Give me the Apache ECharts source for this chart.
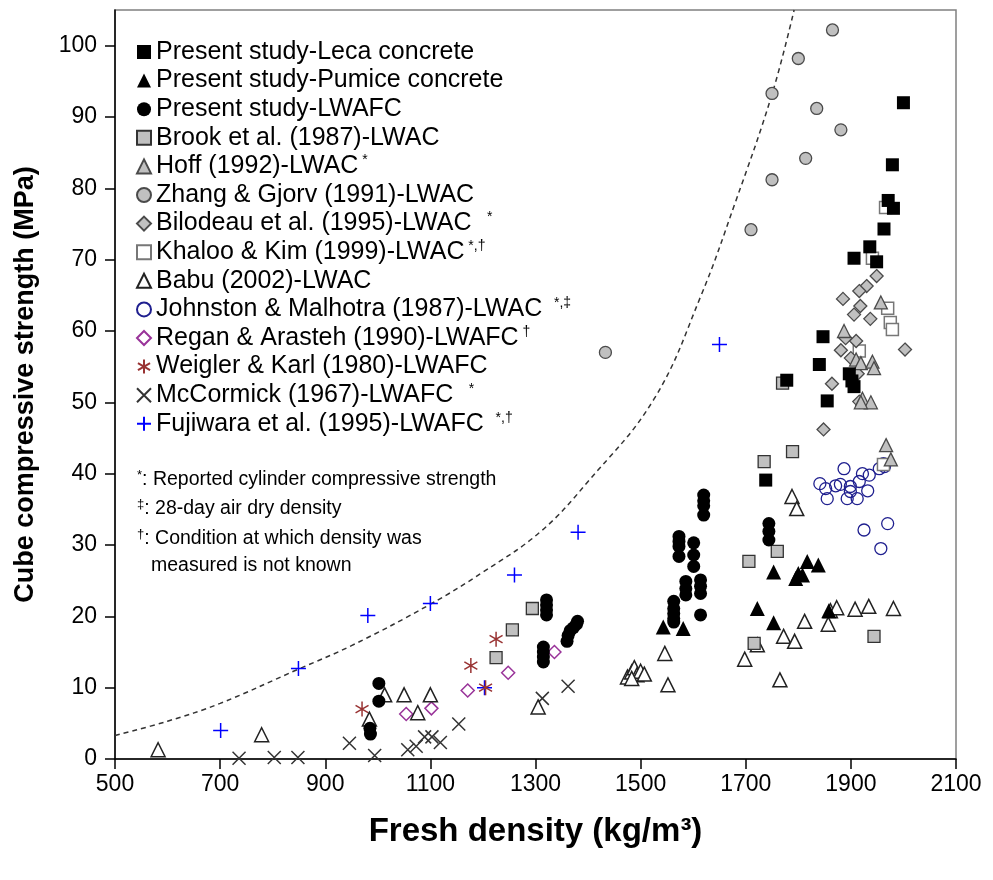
<!DOCTYPE html>
<html>
<head>
<meta charset="utf-8">
<script src="https://cdn.jsdelivr.net/npm/echarts@6/dist/echarts.min.js"></script>
<style>
html,body{margin:0;padding:0;background:#fff;}
#chart{width:993px;height:880px;}
</style>
</head>
<body>
<div id="chart"></div>
<script>
// ---- Data (density kg/m3, cube strength MPa) ----
const lecaConcrete = [[2000,92],[1979,83.3],[1971,78.3],[1981,77.2],[1963,74.3],[1936,71.8],[1906,70.2],[1949,69.7],[1847,59.2],[1840,55.3],[1897,54],[1906,52.2],[1902,53],[1855,50.2],[1778,53.1],[1738,39.1]];
const pumiceConcrete = [[1753,26.2],[1795,25.3],[1800,26],[1808,25.8],[1817,27.7],[1838,27.2],[1722,21.1],[1753,19.1],[1543,18.5],[1581,18.3],[1858,20.8]];
const presentLWAFC = [[985,4.3],[986,3.5],[1002,10.6],[1002,8.1],
  [1321,22.3],[1321,21.6],[1321,20.9],[1321,20.2],
  [1315,15.7],[1315,15.0],[1315,14.3],[1315,13.6],
  [1360,16.5],[1362,17.3],[1366,18],[1372,18.4],[1378,18.9],[1380,19.3],
  [1620,37],[1620,36.2],[1620,35.5],[1620,34.2],
  [1573,31.2],[1573,30.5],[1573,29.8],[1573,28.4],
  [1601,30.3],[1601,28.6],[1601,27],
  [1586,24.9],[1586,23.9],[1586,23],
  [1614,25.1],[1614,24.2],[1614,23.2],
  [1563,22.1],[1563,21.1],[1563,20.4],[1563,19.7],[1563,19.2],
  [1614,20.2],[1744,33],[1744,31.9],[1744,30.7]];
const brook1987 = [[1225,14.2],[1256,18.1],[1294,21.1],[1770,52.7],[1789,43.1],[1735,41.7],[1760,29.1],[1706,27.7],[1944,17.2],[1716,16.2]];
const hoff1992 = [[1957,64],[1887,60],[1910,56],[1919,55.5],[1941,55.7],[1944,54.8],[1922,50.5],[1938,50],[1919,50],[1967,44],[1976,42]];
const zhang1991 = [[1865,102.2],[1800,98.2],[1750,93.3],[1835,91.2],[1881,88.2],[1814,84.2],[1750,81.2],[1710,74.2],[1433,57]];
const bilodeau1995 = [[1949,67.7],[1930,66.3],[1916,65.6],[1885,64.5],[1918,63.5],[1906,62.3],[1937,61.7],[1890,59],[1910,58.6],[1881,57.3],[1900,56.2],[2003,57.4],[1913,54],[1864,52.6],[1916,50.1],[1848,46.2]];
const khaloo1999 = [[1966,77.3],[1941,70.2],[1970,63.2],[1975,61.2],[1979,60.2],[1916,57.2],[1962,41.3]];
const babu2002 = [[582,1.3],[779,3.4],[984,5.6],[1013,9],[1050,9],[1100,9],[1076,6.5],[1305,7.3],[1475,11.5],[1483,12.2],[1488,12.8],[1493,11.8],[1500,12.3],[1507,11.9],[1483,11.3],[1546,14.8],[1552,10.4],[1698,14],[1722,16],[1765,11.1],[1772,17.2],[1793,16.5],[1788,36.8],[1797,35.1],[1812,19.3],[1857,18.9],[1861,20.8],[1873,21.2],[1908,21],[1934,21.4],[1981,21.1]];
const johnston1987 = [[1887,40.7],[1922,40],[1935,39.8],[1954,40.7],[1962,41.4],[1841,38.6],[1852,37.9],[1871,38.3],[1880,38.5],[1899,38.2],[1916,38.9],[1932,37.6],[1855,36.5],[1893,36.5],[1912,36.5],[1899,37.5],[1925,32.1],[1970,33],[1957,29.5],[1964,41]];
const regan1990 = [[1054,6.3],[1102,7.1],[1171,9.6],[1248,12.1],[1336,15]];
const weigler1980 = [[970,7],[1177,13.1],[1225,16.8],[1205,10]];
const mccormick1967 = [[736,0.1],[803,0.2],[848,0.2],[946,2.2],[994,0.5],[1057,1.3],[1073,1.8],[1089,3.1],[1103,3.1],[1119,2.3],[1154,4.9],[1313,8.5],[1362,10.2]];
const fujiwara1995 = [[701,4],[849,12.7],[981,20.1],[1100,21.8],[1203,10],[1260,25.8],[1381,31.8],[1650,58.1]];
const boundCurve = [[500,3.3],[600,5.3],[700,7.8],[849,12.6],[950,15.9],[1100,21.7],[1200,26.2],[1310,31.9],[1400,38.9],[1525,50.4],[1614,64.8],[1680,78],[1750,93.2],[1792,105]];

const xTicks = [500,700,900,1100,1300,1500,1700,1900,2100];
const yTicks = [0,10,20,30,40,50,60,70,80,90,100];

const legendMarks = {
  'Hoff (1992)-LWAC': ' *',
  'Bilodeau et al. (1995)-LWAC': '    *',
  'Khaloo & Kim (1999)-LWAC': ' *,†',
  'Johnston & Malhotra (1987)-LWAC': '   *,‡',
  'Regan & Arasteh (1990)-LWAFC': ' †',
  'McCormick (1967)-LWAFC': '    *',
  'Fujiwara et al. (1995)-LWAFC': '   *,†'
};

const FONT = "'Liberation Sans', Arial, sans-serif";
const GRAY = '#c0c0c0', GRAYB = '#4a4a4a';
const P_AST = 'path://M5,0L5,10M0.67,2.5L9.33,7.5M0.67,7.5L9.33,2.5';
const P_X = 'path://M0,0L10,10M0,10L10,0';
const P_PLUS = 'path://M5,0L5,10M0,5L10,5';
const T = 'rgba(0,0,0,0)';

function sc(name, data, symbol, size, color, border, bw) {
  return {
    name, type: 'scatter', data, symbol, symbolSize: size, symbolKeepAspect: true,
    itemStyle: {color, borderColor: border || color, borderWidth: bw || 0, opacity: 1},
    emphasis: {disabled: true}, z: 3
  };
}

const seriesDefs = [
  sc('Fujiwara et al. (1995)-LWAFC', fujiwara1995, P_PLUS, 15, T, '#0000ff', 1.5),
  sc('McCormick (1967)-LWAFC', mccormick1967, P_X, 13, T, '#333333', 1.5),
  sc('Weigler & Karl (1980)-LWAFC', weigler1980, P_AST, 15, T, '#993333', 1.5),
  sc('Regan & Arasteh (1990)-LWAFC', regan1990, 'diamond', 13, '#ffffff', '#993399', 1.5),
  sc('Johnston & Malhotra (1987)-LWAC', johnston1987, 'circle', 12, T, '#1f1f8f', 1.3),
  sc('Babu (2002)-LWAC', babu2002, 'triangle', 14, '#ffffff', '#222222', 1.5),
  sc('Khaloo & Kim (1999)-LWAC', khaloo1999, 'rect', 12, '#ffffff', '#777777', 1.5),
  sc('Bilodeau et al. (1995)-LWAC', bilodeau1995, 'diamond', 13, GRAY, GRAYB, 1.3),
  sc('Zhang & Gjorv (1991)-LWAC', zhang1991, 'circle', 12, GRAY, GRAYB, 1.3),
  sc('Hoff (1992)-LWAC', hoff1992, 'triangle', 13, GRAY, GRAYB, 1.3),
  sc('Brook et al. (1987)-LWAC', brook1987, 'rect', 12, GRAY, '#333333', 1.3),
  sc('Present study-LWAFC', presentLWAFC, 'circle', 13, '#000000'),
  sc('Present study-Pumice concrete', pumiceConcrete, 'triangle', 15, '#000000'),
  sc('Present study-Leca concrete', lecaConcrete, 'rect', 13, '#000000')
];

const legendOrder = ['Present study-Leca concrete','Present study-Pumice concrete','Present study-LWAFC',
  'Brook et al. (1987)-LWAC','Hoff (1992)-LWAC','Zhang & Gjorv (1991)-LWAC','Bilodeau et al. (1995)-LWAC',
  'Khaloo & Kim (1999)-LWAC','Babu (2002)-LWAC','Johnston & Malhotra (1987)-LWAC','Regan & Arasteh (1990)-LWAFC',
  'Weigler & Karl (1980)-LWAFC','McCormick (1967)-LWAFC','Fujiwara et al. (1995)-LWAFC'];

const chart = echarts.init(document.getElementById('chart'), null, {renderer: 'canvas'});
chart.setOption({
  animation: false,
  backgroundColor: '#ffffff',
  grid: {left: 115, right: 37, top: 10, bottom: 121, show: true, borderColor: '#808080', borderWidth: 1.5},
  xAxis: {
    type: 'value', min: 500, max: 2100,
    name: 'Fresh density (kg/m³)', nameLocation: 'middle', nameGap: 56,
    nameTextStyle: {fontFamily: FONT, fontSize: 33, fontWeight: 'bold', color: '#000'},
    axisLine: {show: true, onZero: false, lineStyle: {color: '#000', width: 1.5}},
    axisTick: {show: true, inside: false, length: 10, lineStyle: {color: '#000', width: 1.5}, customValues: xTicks},
    axisLabel: {fontFamily: FONT, fontSize: 23, color: '#000', margin: 14, customValues: xTicks,
      formatter: function (v) { return String(v); }},
    splitLine: {show: false}
  },
  yAxis: {
    type: 'value', min: 0, max: 105,
    name: 'Cube compressive strength (MPa)', nameLocation: 'middle', nameGap: 76, nameRotate: 90,
    nameTextStyle: {fontFamily: FONT, fontSize: 27, fontWeight: 'bold', color: '#000'},
    axisLine: {show: true, onZero: false, lineStyle: {color: '#000', width: 1.5}},
    axisTick: {show: true, inside: false, length: 10, lineStyle: {color: '#000', width: 1.5}, customValues: yTicks},
    axisLabel: {fontFamily: FONT, fontSize: 23, color: '#000', margin: 18, customValues: yTicks,
      formatter: function (v) { return String(v); }},
    splitLine: {show: false}
  },
  legend: {
    data: legendOrder, orient: 'vertical', left: 131, top: 34, itemWidth: 14, itemHeight: 14, itemGap: 2.6,
    selectedMode: false,
    formatter: function (name) {
      const m = legendMarks[name];
      return '{n|' + name + '}' + (m ? '{s|' + m + '}' : '');
    },
    textStyle: {fontFamily: FONT, fontSize: 25, color: '#000', lineHeight: 26,
      rich: {
        n: {fontFamily: FONT, fontSize: 25, color: '#000', lineHeight: 26},
        s: {fontFamily: FONT, fontSize: 14, color: '#000', lineHeight: 26, verticalAlign: 'top'}
      }
    }
  },
  graphic: [
    {type: 'text', left: 137, top: 469, style: {text: '{s|*}{t|: Reported cylinder compressive strength}', rich: {s: {fontSize: 13, fontFamily: FONT, verticalAlign: 'top', lineHeight: 22}, t: {fontSize: 19.5, fontFamily: FONT, lineHeight: 22}}, fill: '#000'}},
    {type: 'text', left: 137, top: 498, style: {text: '{s|‡}{t|: 28-day air dry density}', rich: {s: {fontSize: 13, fontFamily: FONT, verticalAlign: 'top', lineHeight: 22}, t: {fontSize: 19.5, fontFamily: FONT, lineHeight: 22}}, fill: '#000'}},
    {type: 'text', left: 137, top: 528, style: {text: '{s|†}{t|: Condition at which density was}', rich: {s: {fontSize: 13, fontFamily: FONT, verticalAlign: 'top', lineHeight: 22}, t: {fontSize: 19.5, fontFamily: FONT, lineHeight: 22}}, fill: '#000'}},
    {type: 'text', left: 151, top: 556, style: {text: 'measured is not known', font: '19.5px ' + FONT, fill: '#000'}}
  ],
  series: [
    {name: 'curve', type: 'line', data: boundCurve, smooth: 0.4, symbol: 'none', clip: true,
      lineStyle: {color: '#333', width: 1.5, type: [5, 4]}, z: 1, emphasis: {disabled: true}, silent: true}
  ].concat(seriesDefs)
});
</script>
</body>
</html>
